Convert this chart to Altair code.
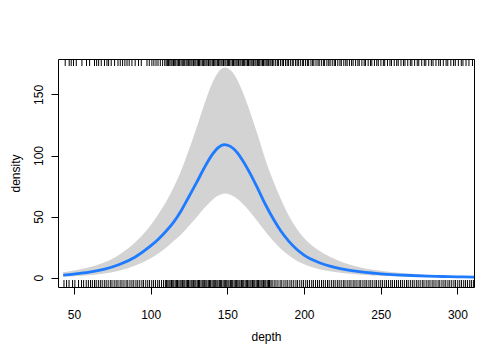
import altair as alt
import pandas as pd

# Fitted density curve with confidence band
depth = [43, 50, 60, 70, 80, 90, 100, 105, 110, 115, 120, 125, 130, 135, 140, 144,
         148, 152, 156, 160, 165, 170, 175, 180, 185, 190, 195, 200, 210, 220, 230,
         240, 250, 260, 270, 280, 290, 300, 311]
fit = [2.2, 3.0, 4.5, 7, 11, 17, 26, 31.5, 38, 45.5, 55, 66.5, 78, 90, 100.5, 106.5,
       109, 107.5, 103, 96, 85, 72.5, 59.5, 48, 38, 30, 23.5, 18.5, 12.3, 8.5, 6,
       4.3, 3.2, 2.4, 1.8, 1.3, 1.0, 0.7, 0.5]
upper = [4.4, 6, 8.5, 12.6, 19.3, 29, 43, 52, 62, 74, 88, 105, 123, 142, 159, 168,
         172, 170, 163, 152, 135, 116, 96, 79, 64, 51, 40.5, 32.5, 22, 15.3, 10.6,
         7.6, 5.6, 4.2, 3.2, 2.4, 1.9, 1.4, 1.1]
lower = [0.8, 1.3, 2.1, 3.5, 6, 10, 16, 19.8, 24.5, 30, 35.5, 42.5, 49.5, 57, 63.5, 67.2,
         69, 68, 65, 60.5, 53.5, 45.5, 37.5, 30, 23.5, 18.3, 14, 11, 7, 4.7, 3.3,
         2.3, 1.7, 1.2, 0.9, 0.6, 0.45, 0.3, 0.2]

# Rug positions (top side)
rug_top = [44.3, 46.9, 48.2, 49.7, 51.5, 55.2, 58.2, 60.2, 63.4, 64.8, 66.1, 67.8,
           69.9, 71.5, 72.6, 74.3, 76.5, 78.7, 80.2, 81.7, 83.2, 84.6, 86.0, 87.8,
           89.9, 92.1, 93.9, 97.6, 99.1, 100.8, 102.1, 103.5, 104.8, 106.3, 107.8,
           109.2, 110.1, 110.9, 111.6, 112.5, 113.3, 114.0, 114.9, 115.7, 116.4, 117.3,
           118.2, 118.9, 119.8, 120.6, 121.3, 122.2, 123.1, 123.8, 124.6, 125.5, 126.3,
           127.0, 127.9, 128.8, 129.5, 130.4, 131.2, 131.9, 132.8, 133.7, 134.4, 135.3,
           136.1, 136.8, 137.7, 138.6, 139.3, 140.2, 141.0, 141.8, 142.6, 143.5, 144.2,
           145.1, 145.9, 146.6, 147.5, 148.4, 149.1, 150.0, 150.8, 151.5, 152.4, 153.3,
           154.0, 154.9, 155.7, 156.4, 157.3, 158.2, 158.9, 159.8, 160.6, 161.3, 162.2,
           163.1, 163.8, 164.7, 165.5, 166.2, 167.1, 168.0, 168.7, 169.6, 170.4, 171.1,
           172.0, 172.9, 173.6, 174.5, 175.3, 176.0, 176.9, 177.8, 178.5, 179.4, 180.3,
           181.5, 182.6, 183.4, 184.7, 185.8, 186.6, 187.9, 189.0, 189.8, 191.1, 192.3,
           193.0, 194.4, 195.5, 196.3, 197.6, 198.9, 199.7, 201.0, 202.2, 203.0, 204.5,
           205.6, 206.4, 207.8, 209.1, 209.9, 211.3, 212.6, 213.4, 214.9, 216.1, 217.0,
           218.4, 219.7, 220.5, 222.0, 223.4, 224.3, 225.9, 227.2, 228.1, 229.6, 231.0,
           232.0, 233.6, 235.1, 236.0, 237.7, 239.2, 240.1, 241.8, 243.3, 244.2, 245.9,
           247.4, 248.4, 250.1, 251.7, 252.6, 254.4, 256.0, 257.0, 258.8, 260.4, 261.4,
           263.2, 264.8, 265.8, 267.6, 269.3, 270.3, 272.1, 273.8, 274.8, 276.7, 278.4,
           279.4, 281.3, 283.0, 284.1, 286.0, 287.8, 288.9, 290.8, 292.6, 293.7, 295.7,
           297.5, 298.6, 300.6, 302.5, 303.6, 305.6, 307.5, 309.8]

# Rug positions (bottom side)
rug_bottom = [43.5, 45.2, 46.8, 49.1, 50.6, 53.0, 54.9, 56.3, 58.0, 59.4,
              60.8, 62.0, 63.4, 64.5, 65.9, 67.2, 68.4, 69.8, 71.0, 72.3, 73.7, 74.8,
              76.2, 77.5, 78.7, 80.1, 81.3, 82.6, 84.0, 85.1, 86.5, 87.8, 89.0, 90.4,
              91.6, 92.9, 94.3, 95.4, 96.8, 98.1, 99.3, 100.7, 101.9, 103.2, 104.6,
              105.7, 107.1, 108.4, 109.6,
              110.4, 111.2, 112.0, 112.7, 113.6, 114.4, 115.1, 116.0, 116.8, 117.5, 118.4,
              119.2, 119.9, 120.8, 121.6, 122.3, 123.2, 124.0, 124.7, 125.6, 126.4, 127.1,
              128.0, 128.8, 129.5, 130.4, 131.2, 131.9, 132.8, 133.6, 134.3, 135.2, 136.0,
              136.7, 137.6, 138.4, 139.1, 140.0, 140.8, 141.5, 142.4, 143.2, 143.9, 144.8,
              145.6, 146.3, 147.2, 148.0, 148.7, 149.6, 150.4, 151.1, 152.0, 152.8, 153.5,
              154.4, 155.2, 155.9, 156.8, 157.6, 158.3, 159.2, 160.0, 160.7, 161.6, 162.4,
              163.1, 164.0, 164.8, 165.5, 166.4, 167.2, 167.9, 168.8, 169.6, 170.3, 171.2,
              172.0, 172.7, 173.6, 174.4, 175.1, 176.0, 176.8, 177.5, 178.4, 179.2,
              180.5, 181.7, 183.0, 184.4, 185.5, 186.9, 188.2, 189.4, 190.8, 192.0, 193.3,
              194.7, 195.8, 197.2, 198.5, 199.7, 201.1, 202.3, 203.6, 205.0, 206.1, 207.5,
              208.8, 210.0, 211.4, 212.6, 213.9, 215.3, 216.4, 217.8, 219.1, 220.3, 221.7,
              222.9, 224.2, 225.6, 226.7, 228.1, 229.4, 230.6, 232.0, 233.2, 234.5, 235.9,
              237.0, 238.4, 239.7, 240.9, 242.3, 243.5, 244.8, 246.2, 247.3, 248.7, 250.0,
              251.2, 252.6, 253.8, 255.1, 256.5, 257.6, 259.0, 260.3, 261.5, 262.9, 264.1,
              265.4, 266.8, 267.9, 269.3, 270.6, 271.8, 273.2, 274.4, 275.7, 277.1, 278.2,
              279.6, 280.9, 282.1, 283.5, 284.7, 286.0, 287.4, 288.5, 289.9, 291.2, 292.4,
              293.8, 295.0, 296.3, 297.7, 298.8, 300.2, 301.5, 302.7, 304.1, 305.3, 306.6,
              308.0, 309.1, 310.4]

x_ticks = [50, 100, 150, 200, 250, 300]
y_ticks = [0, 50, 100, 150]

W, H = 416, 228
RUG = 7

curve = pd.DataFrame({"depth": depth, "fit": fit, "lower": lower, "upper": upper})
top_df = pd.DataFrame({"depth": rug_top})
bot_df = pd.DataFrame({"depth": rug_bottom})

x_scale = alt.Scale(domain=[39.6, 310.8], nice=False, zero=False)
y_scale = alt.Scale(domain=[-7.6, 179], nice=False, zero=False)

x_axis = alt.Axis(values=x_ticks, title="depth", labelPadding=15, titlePadding=11,
                  format="d")
y_axis = alt.Axis(values=y_ticks, title="density", labelAngle=270,
                  labelAlign="center", labelBaseline="bottom", labelPadding=6,
                  titlePadding=10, format="d")

band = alt.Chart(curve).mark_area(color="#D3D3D3", interpolate="monotone", clip=True).encode(
    x=alt.X("depth:Q", scale=x_scale, axis=x_axis),
    y=alt.Y("lower:Q", scale=y_scale, axis=y_axis),
    y2="upper:Q",
)
line = alt.Chart(curve).mark_line(color="#1E7BFF", strokeWidth=2.8,
                                  interpolate="monotone", clip=True).encode(
    x=alt.X("depth:Q"),
    y=alt.Y("fit:Q"),
)
top = alt.Chart(top_df).mark_rule(color="black", strokeWidth=1, clip=True).encode(
    x=alt.X("depth:Q"),
    y=alt.value(0),
    y2=alt.value(RUG),
)
bottom = alt.Chart(bot_df).mark_rule(color="black", strokeWidth=1, clip=True).encode(
    x=alt.X("depth:Q"),
    y=alt.value(H - RUG),
    y2=alt.value(H),
)

chart = alt.layer(band, line, top, bottom).properties(
    width=W, height=H,
    autosize=alt.AutoSizeParams(type="none"),
    padding={"left": 50, "top": 51, "right": 20, "bottom": 66},
).configure_view(
    stroke="black", strokeWidth=1
).configure_axis(
    grid=False, domain=False, tickColor="black", tickSize=7, tickWidth=1,
    labelFont="Liberation Sans", labelFontSize=12, labelColor="black",
    titleFont="Liberation Sans", titleFontSize=12, titleFontWeight="normal",
    titleColor="black",
)

chart.save("out.html", embed_options={"renderer": "svg", "actions": False})
